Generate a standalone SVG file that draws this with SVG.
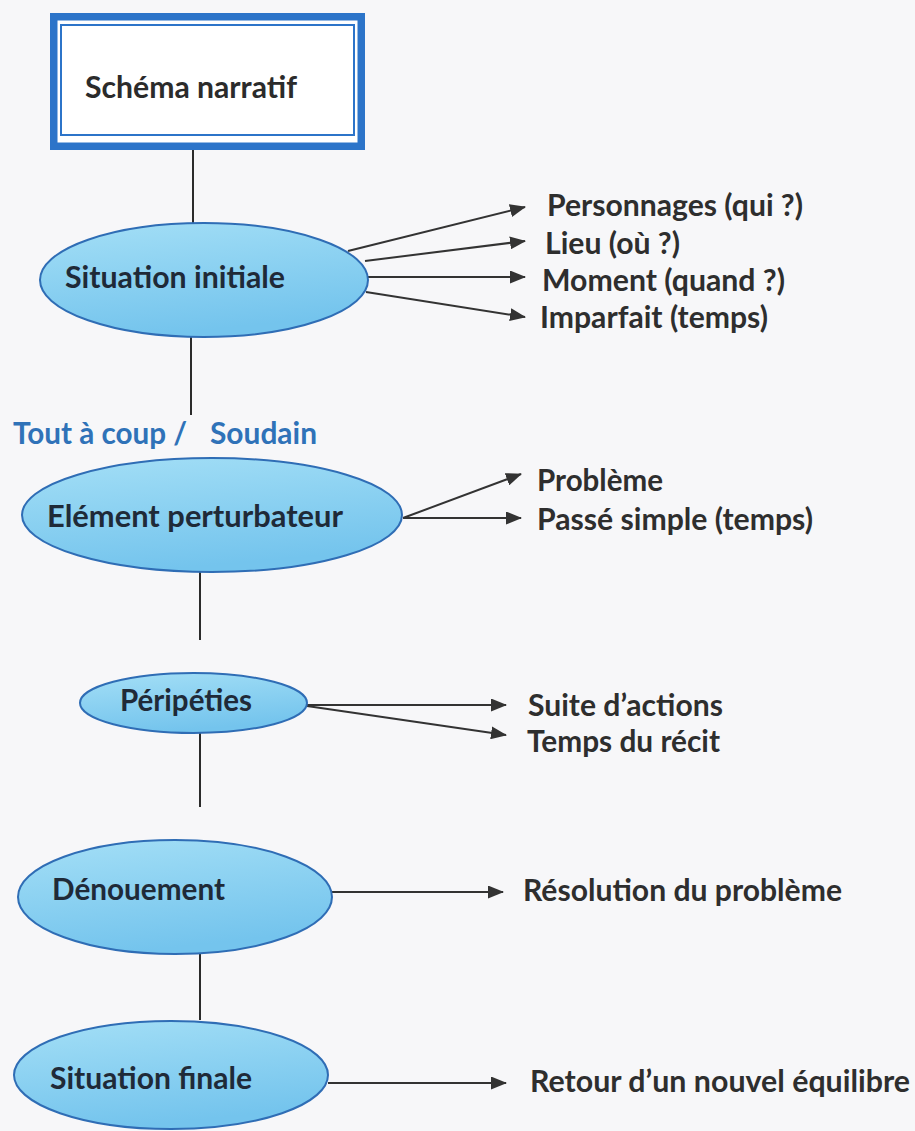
<svg xmlns="http://www.w3.org/2000/svg" width="915" height="1131" viewBox="0 0 915 1131">
<defs>
<linearGradient id="ellFill" x1="0" y1="0" x2="0.3" y2="1">
<stop offset="0" stop-color="#a4dff6"/>
<stop offset="1" stop-color="#74c4ed"/>
</linearGradient>
<marker id="arrow" markerUnits="userSpaceOnUse" markerWidth="16" markerHeight="13" refX="15" refY="6.5" orient="auto">
<path d="M0,0 L16,6.5 L0,13 Z" fill="#333"/>
</marker>
<style>
.lbl{font-family:Lato,"Open Sans","Liberation Sans",sans-serif;font-weight:bold;font-size:29.5px;fill:#1f2a38}
.item{font-family:Lato,"Open Sans","Liberation Sans",sans-serif;font-weight:bold;font-size:29.5px;fill:#2e2e2e}
.blue{font-family:Lato,"Open Sans","Liberation Sans",sans-serif;font-weight:bold;font-size:29.5px;fill:#2f72b8}
.ell{fill:url(#ellFill);stroke:#2f6db5;stroke-width:2}
.link{stroke:#2b2b2b;stroke-width:2;fill:none}
.arr{stroke:#333;stroke-width:2;fill:none;marker-end:url(#arrow)}
</style>
</defs>
<rect x="0" y="0" width="915" height="1131" fill="#f7f7f9"/>

<g id="connectors">
<line class="link" x1="193" y1="150" x2="193" y2="223"/>
<line class="link" x1="191" y1="337" x2="191" y2="415"/>
<line class="link" x1="200" y1="572" x2="200" y2="640"/>
<line class="link" x1="200" y1="733" x2="200" y2="807"/>
<line class="link" x1="200" y1="953" x2="200" y2="1020"/>
<line class="arr" x1="348" y1="251" x2="525" y2="207"/>
<line class="arr" x1="365" y1="261" x2="525" y2="241"/>
<line class="arr" x1="368" y1="277" x2="525" y2="277"/>
<line class="arr" x1="366" y1="292" x2="525" y2="317"/>
<line class="arr" x1="403" y1="518" x2="521" y2="474"/>
<line class="arr" x1="403" y1="518" x2="521" y2="518"/>
<line class="arr" x1="307" y1="705" x2="506" y2="705"/>
<line class="arr" x1="307" y1="706" x2="506" y2="735"/>
<line class="arr" x1="332" y1="892" x2="503" y2="892"/>
<line class="arr" x1="328" y1="1083" x2="506" y2="1083"/>
</g>

<g id="schema">
<rect x="53.75" y="16.75" width="307.5" height="129.5" fill="#ffffff" stroke="#2c74c9" stroke-width="7.5"/>
<rect x="61" y="25" width="293" height="110" fill="none" stroke="#2c74c9" stroke-width="2"/>
<text class="lbl" x="85" y="98" textLength="212" lengthAdjust="spacingAndGlyphs" style="fill:#2b2b2b">Schéma narratif</text>
</g>

<g id="situation-initiale">
<ellipse class="ell" cx="204" cy="280" rx="164" ry="57"/>
<text class="lbl" x="65" y="288" textLength="220" lengthAdjust="spacingAndGlyphs">Situation initiale</text>
</g>

<g id="items-initiale">
<text class="item" x="547" y="216" textLength="256" lengthAdjust="spacingAndGlyphs">Personnages (qui ?)</text>
<text class="item" x="545" y="254" textLength="135" lengthAdjust="spacingAndGlyphs">Lieu (où ?)</text>
<text class="item" x="542" y="291" textLength="243" lengthAdjust="spacingAndGlyphs">Moment (quand ?)</text>
<text class="item" x="540" y="328" textLength="228" lengthAdjust="spacingAndGlyphs">Imparfait (temps)</text>
</g>

<g id="transition">
<text class="blue" y="444"><tspan x="13" textLength="174" lengthAdjust="spacingAndGlyphs">Tout à coup /</tspan><tspan x="210" textLength="107" lengthAdjust="spacingAndGlyphs">Soudain</tspan></text>
</g>

<g id="element-perturbateur">
<ellipse class="ell" cx="212" cy="515" rx="190" ry="57"/>
<text class="lbl" x="47" y="527" textLength="296" lengthAdjust="spacingAndGlyphs">Elément perturbateur</text>
</g>

<g id="items-perturbateur">
<text class="item" x="537" y="491" textLength="126" lengthAdjust="spacingAndGlyphs">Problème</text>
<text class="item" x="537" y="530" textLength="276" lengthAdjust="spacingAndGlyphs">Passé simple (temps)</text>
</g>

<g id="peripeties">
<ellipse class="ell" cx="193.5" cy="703" rx="113.5" ry="30"/>
<text class="lbl" x="120" y="711" textLength="132" lengthAdjust="spacingAndGlyphs">Péripéties</text>
</g>

<g id="items-peripeties">
<text class="item" x="528" y="716" textLength="195" lengthAdjust="spacingAndGlyphs">Suite d’actions</text>
<text class="item" x="527" y="752" textLength="193" lengthAdjust="spacingAndGlyphs">Temps du récit</text>
</g>

<g id="denouement">
<ellipse class="ell" cx="175" cy="897" rx="157" ry="57"/>
<text class="lbl" x="52" y="900" textLength="173" lengthAdjust="spacingAndGlyphs">Dénouement</text>
</g>

<g id="items-denouement">
<text class="item" x="523" y="901" textLength="319" lengthAdjust="spacingAndGlyphs">Résolution du problème</text>
</g>

<g id="situation-finale">
<ellipse class="ell" cx="171" cy="1075" rx="157" ry="54"/>
<text class="lbl" x="50" y="1089" textLength="202" lengthAdjust="spacingAndGlyphs">Situation finale</text>
</g>

<g id="items-finale">
<text class="item" x="530" y="1092" textLength="380" lengthAdjust="spacingAndGlyphs">Retour d’un nouvel équilibre</text>
</g>
</svg>
